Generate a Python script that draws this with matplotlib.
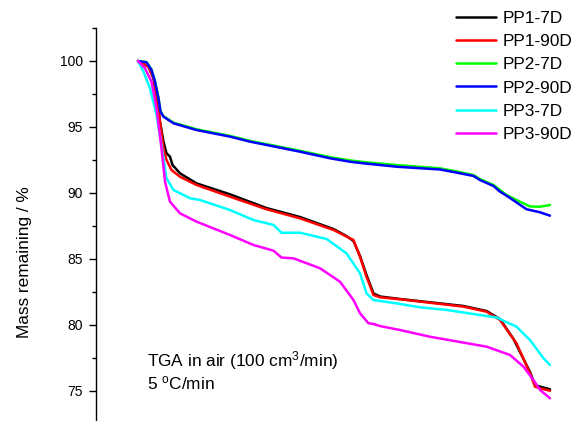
import matplotlib
matplotlib.use("Agg")
import matplotlib.pyplot as plt

plt.rcParams['font.family'] = ['Liberation Sans', 'DejaVu Sans']
plt.rcParams['mathtext.fontset'] = 'custom'
plt.rcParams['mathtext.rm'] = 'Liberation Sans'
plt.rcParams['mathtext.it'] = 'Liberation Sans:italic'
plt.rcParams['mathtext.bf'] = 'Liberation Sans:bold'

# ---- data (temperature-like x, mass remaining %) ----
labels = ["PP1-7D", "PP1-90D", "PP2-7D", "PP2-90D", "PP3-7D", "PP3-90D"]
colors = ["#000000", "#ff0000", "#00ff00", "#0000ff", "#00ffff", "#ff00ff"]

pp1_7d_t = [30, 51, 61, 67, 74, 81, 87, 94, 99, 114, 147, 214, 287, 354, 421, 447, 461,
            474, 487, 501, 514, 554, 681, 727, 754, 781, 814, 824, 834, 854]
pp1_7d_m = [100, 99.57, 98.69, 97.42, 95.40, 93.89, 93.01, 92.75, 92.12, 91.49, 90.73,
            89.90, 88.86, 88.18, 87.27, 86.74, 86.36, 85.23, 83.79, 82.39, 82.16, 81.97,
            81.44, 81.06, 80.45, 78.94, 76.44, 75.45, 75.33, 75.13]

pp1_90d_t = [30, 51, 61, 67, 74, 81, 87, 97, 114, 147, 214, 287, 354, 421, 447, 461,
             474, 487, 501, 514, 554, 681, 727, 754, 787, 814, 824, 834, 854]
pp1_90d_m = [100, 99.57, 98.69, 97.42, 95.40, 93.39, 92.50, 91.74, 91.23, 90.61, 89.72,
             88.77, 88.08, 87.20, 86.70, 86.44, 85.17, 83.66, 82.27, 82.10, 81.95, 81.39,
             81.01, 80.38, 78.61, 76.34, 75.33, 75.20, 75.02]

pp2_7d_t = [30, 47, 57, 64, 71, 75, 81, 101, 147, 214, 254, 354, 414, 454, 481, 547,
            634, 661, 701, 714, 741, 754, 767, 794, 814, 834, 854]
pp2_7d_m = [100, 99.92, 99.35, 98.47, 97.20, 96.20, 95.82, 95.33, 94.83, 94.33, 93.95,
            93.20, 92.72, 92.47, 92.35, 92.12, 91.87, 91.68, 91.36, 91.05, 90.61, 90.23,
            89.85, 89.34, 88.98, 88.96, 89.09]

pp2_90d_t = [30, 47, 57, 64, 71, 75, 81, 101, 147, 214, 254, 354, 414, 454, 481, 547,
             634, 661, 701, 714, 741, 754, 767, 807, 834, 854]
pp2_90d_m = [100, 99.90, 99.32, 98.43, 97.17, 96.16, 95.78, 95.28, 94.77, 94.27, 93.89,
             93.13, 92.63, 92.37, 92.25, 91.99, 91.78, 91.59, 91.29, 90.98, 90.53, 90.10,
             89.80, 88.77, 88.54, 88.28]

pp3_7d_t = [30, 41, 54, 67, 77, 87, 101, 134, 154, 214, 261, 301, 317, 354, 407, 447,
            474, 487, 501, 547, 594, 647, 747, 787, 814, 841, 854]
pp3_7d_m = [100, 99.19, 97.93, 95.91, 93.64, 91.11, 90.23, 89.60, 89.47, 88.71, 87.95,
            87.58, 86.99, 86.99, 86.52, 85.43, 83.92, 82.40, 81.89, 81.64, 81.34, 81.14,
            80.57, 79.87, 78.86, 77.48, 76.97]

pp3_90d_t = [30, 44, 57, 67, 77, 84, 94, 114, 147, 214, 261, 301, 317, 341, 394, 434,
             461, 474, 491, 501, 514, 554, 614, 727, 774, 801, 821, 834, 854]
pp3_90d_m = [100, 99.45, 98.43, 96.42, 93.39, 90.86, 89.34, 88.46, 87.83, 86.82, 86.06,
             85.63, 85.11, 85.05, 84.30, 83.28, 81.89, 80.89, 80.13, 80.08, 79.92, 79.62,
             79.11, 78.36, 77.73, 76.84, 75.83, 75.08, 74.45]

series_t = [pp1_7d_t, pp1_90d_t, pp2_7d_t, pp2_90d_t, pp3_7d_t, pp3_90d_t]
series_m = [pp1_7d_m, pp1_90d_m, pp2_7d_m, pp2_90d_m, pp3_7d_m, pp3_90d_m]

y_ticks = [75, 80, 85, 90, 95, 100]

W, H = 586, 421
fig = plt.figure(figsize=(W / 100, H / 100), dpi=100)
ax = fig.add_axes([96 / W, -3 / H, 464 / W, 396 / H])

for t, m, c, lab in zip(series_t, series_m, colors, labels):
    ax.plot(t, m, color=c, lw=1.8, label=lab, solid_capstyle='round',
            solid_joinstyle='round')

ax.set_xlim(-54, 874)
ax.set_ylim(72.5, 102.5)
ax.set_yticks(y_ticks)
ax.set_yticks([77.5, 82.5, 87.5, 92.5, 97.5, 102.5], minor=True)
ax.tick_params(axis='y', which='major', direction='out', length=4.8, width=1.0,
               labelsize=10, pad=4.5)
ax.tick_params(axis='y', which='minor', direction='out', length=3.0, width=1.0)
ax.set_xticks([])
for s in ['top', 'right', 'bottom']:
    ax.spines[s].set_visible(False)
ax.spines['left'].set_linewidth(1.0)
ax.patch.set_alpha(0)

fig.text(24.5 / W, 1 - 262 / H, "Mass remaining / %", rotation=90,
         ha='center', va='center', fontsize=12.4)

fig.text(147 / W, 1 - 366 / H, "TGA in air (100 cm$^{3}$/min)", ha='left',
         va='baseline', fontsize=12.4)
fig.text(147 / W, 1 - 389 / H, "5 $^{\\rm o}$C/min", ha='left',
         va='baseline', fontsize=12.4)

fig.legend(loc='upper left', bbox_to_anchor=(456 / W, 1 - 11 / H), frameon=False,
           fontsize=12.4, handlelength=2.35, handletextpad=0.38, labelspacing=0.47,
           borderpad=0, borderaxespad=0)

fig.savefig("out.png", dpi=100)
